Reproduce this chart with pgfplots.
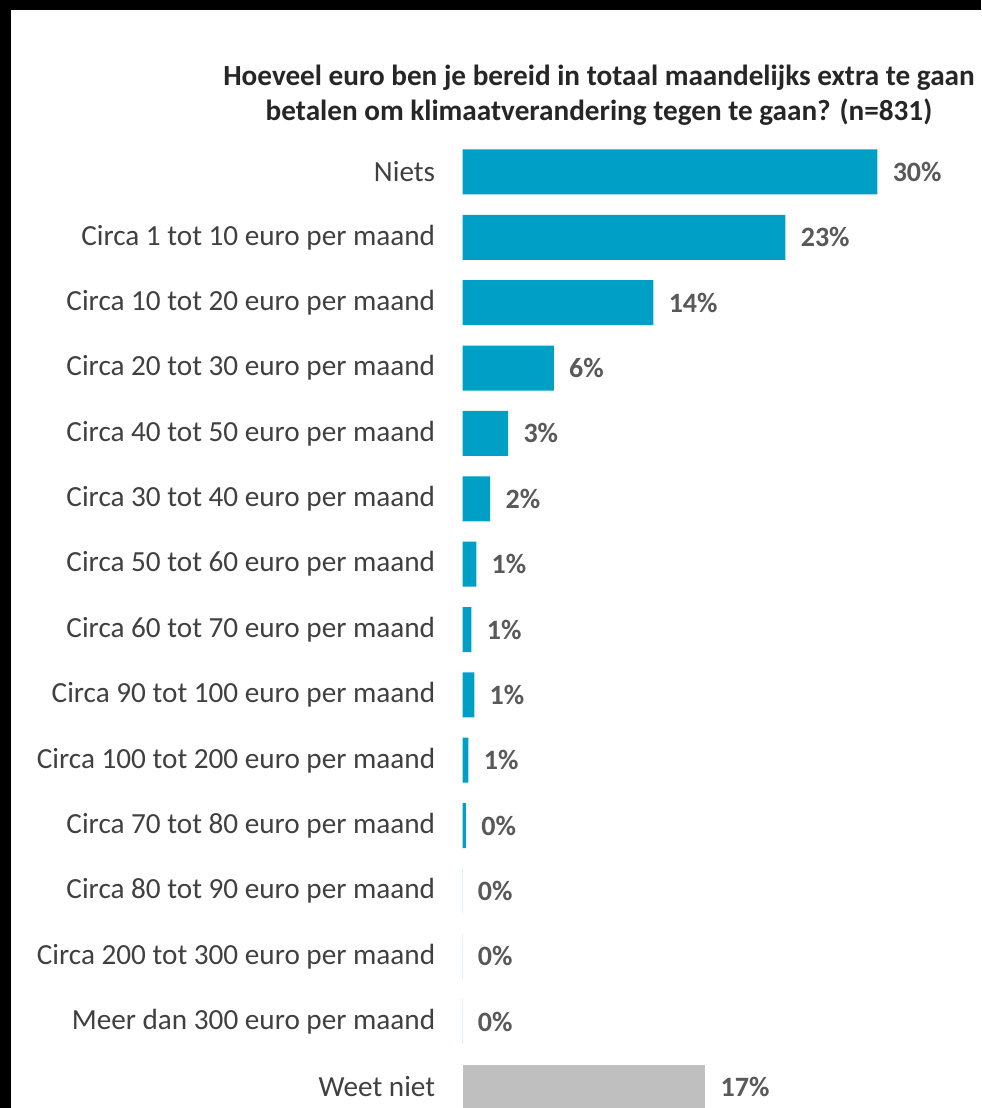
\documentclass[border=0pt]{standalone}
\usepackage{fontspec}
\setmainfont{Carlito}
\usepackage{pgfplots}
\pgfplotsset{compat=1.18}
\definecolor{barblue}{HTML}{00A0C6}
\definecolor{bargray}{HTML}{BFBFBF}
\definecolor{labgray}{HTML}{404040}
\definecolor{valgray}{HTML}{595959}
\definecolor{titlegray}{HTML}{262626}

\begin{document}
\begin{tikzpicture}
% 1 px of the reference = 0.5pt
\useasboundingbox (0,0) rectangle (490.5pt,554pt);
\fill[white] (0,0) rectangle (490.5pt,554pt);
\fill[black] (0,549pt) rectangle (490.5pt,554pt);
\fill[black] (0,0) rectangle (5.5pt,554pt);

\node[align=center, text=titlegray, font=\bfseries\fontsize{14.6}{17.5}\selectfont]
  at (299.5pt,506.5pt)
  {Hoeveel euro ben je bereid in totaal maandelijks extra te gaan\\
   betalen om klimaatverandering tegen te gaan? (n=831)};

\begin{axis}[
    at={(231.25pt,484.35pt)}, anchor=north west,
    x=6.915pt, y=32.68pt,
    xbar, bar width=22.5pt,
    xmin=0, xmax=35,
    ymin=-0.5, ymax=14.5,
    y dir=reverse,
    axis line style={draw=none},
    xtick=\empty,
    ytick={0,...,14},
    major tick length=0pt,
    yticklabels={Niets,
      Circa 1 tot 10 euro per maand,
      Circa 10 tot 20 euro per maand,
      Circa 20 tot 30 euro per maand,
      Circa 40 tot 50 euro per maand,
      Circa 30 tot 40 euro per maand,
      Circa 50 tot 60 euro per maand,
      Circa 60 tot 70 euro per maand,
      Circa 90 tot 100 euro per maand,
      Circa 100 tot 200 euro per maand,
      Circa 70 tot 80 euro per maand,
      Circa 80 tot 90 euro per maand,
      Circa 200 tot 300 euro per maand,
      Meer dan 300 euro per maand,
      Weet niet},
    yticklabel style={font=\fontsize{14.6}{17}\selectfont, text=labgray,
      anchor=east, inner sep=0pt, xshift=-13.5pt},
    point meta=explicit symbolic,
    nodes near coords,
    nodes near coords style={font=\bfseries\fontsize{14}{17}\selectfont,
      text=valgray, anchor=west, inner sep=0pt, xshift=7.5pt},
    clip=false,
]
\addplot[fill=barblue, draw=none, bar shift=0pt] coordinates {
    (30.0,0) [30\%]
    (23.35,1) [23\%]
    (13.8,2) [14\%]
    (6.6,3) [6\%]
    (3.3,4) [3\%]
    (2.0,5) [2\%]
    (1.0,6) [1\%]
    (0.65,7) [1\%]
    (0.85,8) [1\%]
    (0.43,9) [1\%]
    (0.25,10) [0\%]
    (0,11) [0\%]
    (0,12) [0\%]
    (0,13) [0\%]
};
\addplot[fill=bargray, draw=none, bar shift=0pt] coordinates {
    (17.55,14) [17\%]
};
\end{axis}
\end{tikzpicture}
\end{document}
